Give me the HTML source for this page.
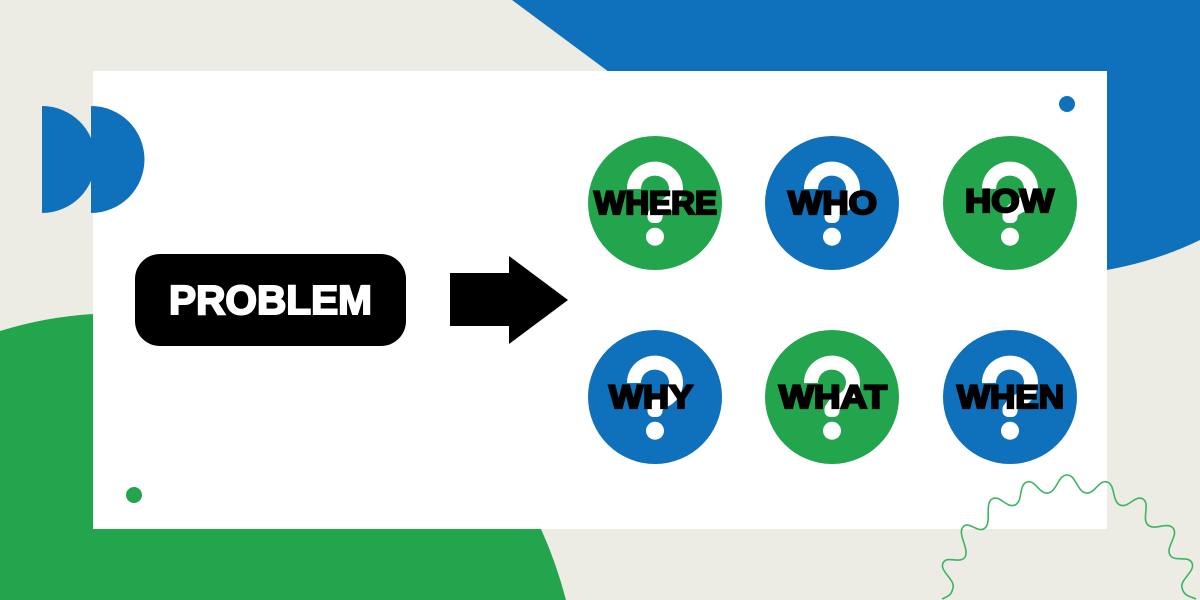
<!DOCTYPE html>
<html lang="en">
<head>
<meta charset="utf-8">
<title>Problem diagram</title>
<style>
html,body{margin:0;padding:0;background:#ecece4}
svg{display:block}
text{font-family:"Liberation Sans",sans-serif;font-weight:700}
</style>
</head>
<body>
<svg xmlns="http://www.w3.org/2000/svg" width="1200" height="600" viewBox="0 0 1200 600">
<rect width="1200" height="600" fill="#ecece4"/>
<path d="M512 0L609 72L1107 72L1107 270Q1157 261 1200 240L1200 0Z" fill="#0f71bb"/>
<path d="M0 331Q45 317 93 314L93 529L541 529Q556 562 566 600L0 600Z" fill="#22a54c"/>
<rect x="93" y="71" width="1014" height="458" fill="#fff"/>
<path d="M42 106A53.5 53.5 0 0 1 42 213Z" fill="#0f71bb"/>
<path d="M91 106A53.5 53.5 0 0 1 91 213Z" fill="#0f71bb"/>
<circle cx="1067" cy="104" r="8" fill="#0f71bb"/>
<circle cx="134" cy="495" r="8" fill="#22a54c"/>
<path fill="none" stroke="#3cb563" stroke-width="1.6" d="M942 599C948 596 951 596 953 588C955.4 579.4 939.2 571.2 943 563C946.8 554.8 960.3 564.6 965 557C969.7 549.4 957 533.8 963 527C969 520.3 978.3 534 985 528C991.8 522 984.4 503.8 992 499C999.6 494.2 1006.8 508.7 1015 505C1023.2 501.3 1018.4 484.5 1027 482C1035.6 479.5 1039 494.4 1048 493C1057 491.6 1058 475 1067 475C1076 475 1077 491.6 1086 493C1095 494.4 1098.4 479.5 1107 482C1115.6 484.5 1111.8 501.3 1120 505C1128.2 508.7 1135.4 494.2 1143 499C1150.6 503.8 1141.3 519 1148 525C1154.8 531 1167 521.3 1173 528C1179 534.8 1165.3 547.4 1170 555C1174.7 562.6 1188.2 554.8 1192 563C1195.8 571.2 1179.6 579.4 1182 588C1184.4 596.6 1190 596 1196 599"/>
<rect x="135" y="254" width="271" height="92" rx="25" ry="25" fill="#000"/>
<text x="169" y="314" font-size="41" fill="#fff" stroke="#fff" stroke-width="2" textLength="203" lengthAdjust="spacingAndGlyphs">PROBLEM</text>
<path d="M450 273L509 273L509 256L568 300L509 344L509 326L450 326Z" fill="#000"/>
<defs>
<g id="q">
<path d="M-21 -14A21 20 0 1 1 12 2Q0 7 0 14" fill="none" stroke="#fff" stroke-width="14"/>
<circle cx="0" cy="33.7" r="9" fill="#fff"/>
<rect x="-7.5" y="6" width="15" height="14" rx="6" fill="#fff"/>
</g>
</defs>
<circle cx="655" cy="203" r="67" fill="#22a54c"/>
<circle cx="832" cy="203" r="67" fill="#0f71bb"/>
<circle cx="1010" cy="203" r="67" fill="#22a54c"/>
<circle cx="655" cy="397" r="67" fill="#0f71bb"/>
<circle cx="832" cy="397" r="67" fill="#22a54c"/>
<circle cx="1010" cy="397" r="67" fill="#0f71bb"/>
<use href="#q" x="655" y="203"/>
<use href="#q" x="832" y="203"/>
<use href="#q" x="1010" y="203"/>
<use href="#q" x="655" y="397"/>
<use href="#q" x="832" y="397"/>
<use href="#q" x="1010" y="397"/>
<g font-size="32" fill="#000" stroke="#000" stroke-width="2.2">
<text x="594" y="214" textLength="123" lengthAdjust="spacingAndGlyphs">WHERE</text>
<text x="788" y="214" textLength="89" lengthAdjust="spacingAndGlyphs">WHO</text>
<text x="965" y="212" textLength="89" lengthAdjust="spacingAndGlyphs">HOW</text>
<text x="609" y="408" textLength="84" lengthAdjust="spacingAndGlyphs">WHY</text>
<text x="779" y="408" textLength="108" lengthAdjust="spacingAndGlyphs">WHAT</text>
<text x="957" y="408" textLength="107" lengthAdjust="spacingAndGlyphs">WHEN</text>
</g>
</svg>
</body>
</html>
